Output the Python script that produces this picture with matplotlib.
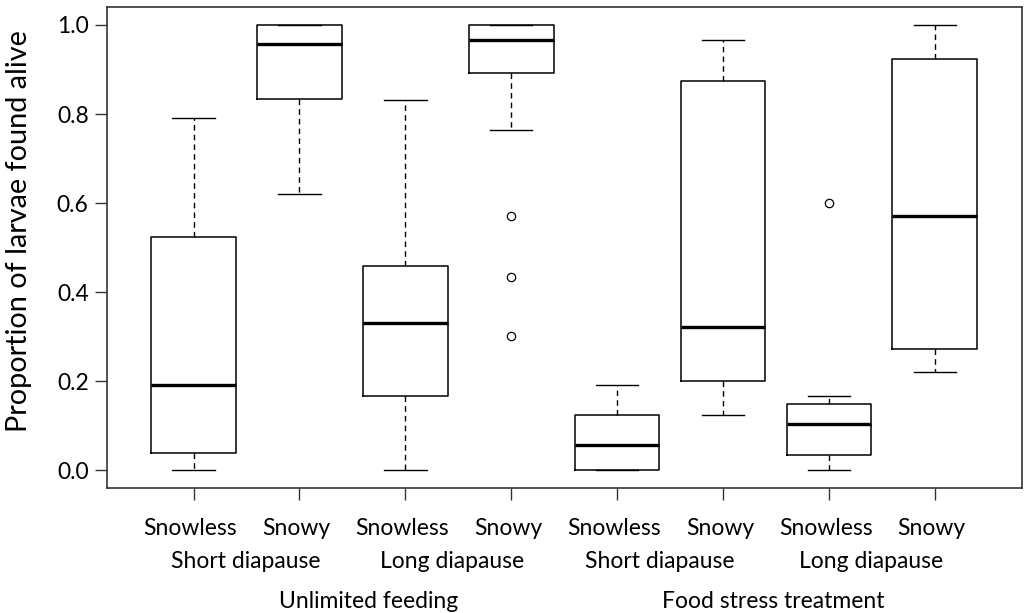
import matplotlib
matplotlib.use("Agg")
import matplotlib.pyplot as plt

plt.rcParams['font.family'] = ['Lato', 'DejaVu Sans']

# ---- data ----
climate = ["Snowless", "Snowy", "Snowless", "Snowy", "Snowless", "Snowy", "Snowless", "Snowy"]
diapause = ["Short diapause", "Long diapause", "Short diapause", "Long diapause"]
treatment = ["Unlimited feeding", "Food stress treatment"]

q1 = [0.040, 0.833, 0.167, 0.892, 0.000, 0.201, 0.035, 0.272]
med = [0.193, 0.957, 0.332, 0.966, 0.058, 0.321, 0.105, 0.572]
q3 = [0.524, 1.000, 0.458, 1.000, 0.124, 0.875, 0.150, 0.923]
whislo = [0.000, 0.621, 0.000, 0.764, 0.000, 0.124, 0.000, 0.221]
whishi = [0.792, 1.000, 0.832, 1.000, 0.193, 0.966, 0.167, 1.000]
outliers = [[], [], [], [0.572, 0.435, 0.301], [], [], [0.600], []]

yticks = [0.0, 0.2, 0.4, 0.6, 0.8, 1.0]
ylabel = "Proportion of larvae found alive"

# ---- layout ----
fig = plt.figure(figsize=(10.24, 6.13), dpi=100)
ax = fig.add_axes([0.1042, 0.2034, 0.8935, 0.7849])

stats = []
for i in range(len(climate)):
    stats.append(dict(med=med[i], q1=q1[i], q3=q3[i], whislo=whislo[i],
                      whishi=whishi[i], fliers=outliers[i]))

positions = list(range(1, len(climate) + 1))
ax.bxp(stats, positions=positions, widths=0.8, capwidths=0.4,
       showfliers=True, patch_artist=False,
       boxprops=dict(color='black', linewidth=1.1),
       medianprops=dict(color='black', linewidth=2.4, solid_capstyle='butt'),
       whiskerprops=dict(color='black', linewidth=1.0, linestyle=(0, (4, 3))),
       capprops=dict(color='black', linewidth=1.0),
       flierprops=dict(marker='o', markersize=6, markerfacecolor='none',
                       markeredgecolor='black', markeredgewidth=0.9, linestyle='none'))

ax.set_xlim(0.18, 8.82)
ax.set_ylim(-0.04, 1.04)
ax.set_yticks(yticks)
ax.set_yticklabels([f"{v:.1f}" for v in yticks], fontsize=16.5)
ax.set_xticks(positions)
ax.set_xticklabels([])
ax.tick_params(axis='both', length=8.5, width=1.0, color='#333333', direction='out')
ax.tick_params(axis='y', pad=4.5)
for sp in ax.spines.values():
    sp.set_linewidth(1.2)
    sp.set_color('#333333')

ax.set_ylabel(ylabel, fontsize=20.8)
ax.yaxis.set_label_coords(-0.082, 0.534)

tr = ax.get_xaxis_transform()
for i, lab in enumerate(climate):
    ax.text(positions[i] - 0.03, -0.097, lab, transform=tr, ha='center', va='baseline', fontsize=16.5)

diap_x = [1.495, 3.44, 5.40, 7.40]
for x, lab in zip(diap_x, diapause):
    ax.text(x, -0.166, lab, transform=tr, ha='center', va='baseline', fontsize=16.5)

treat_x = [2.65, 6.47]
for x, lab in zip(treat_x, treatment):
    ax.text(x, -0.248, lab, transform=tr, ha='center', va='baseline', fontsize=16.5)

fig.savefig("out.png", dpi=100)
